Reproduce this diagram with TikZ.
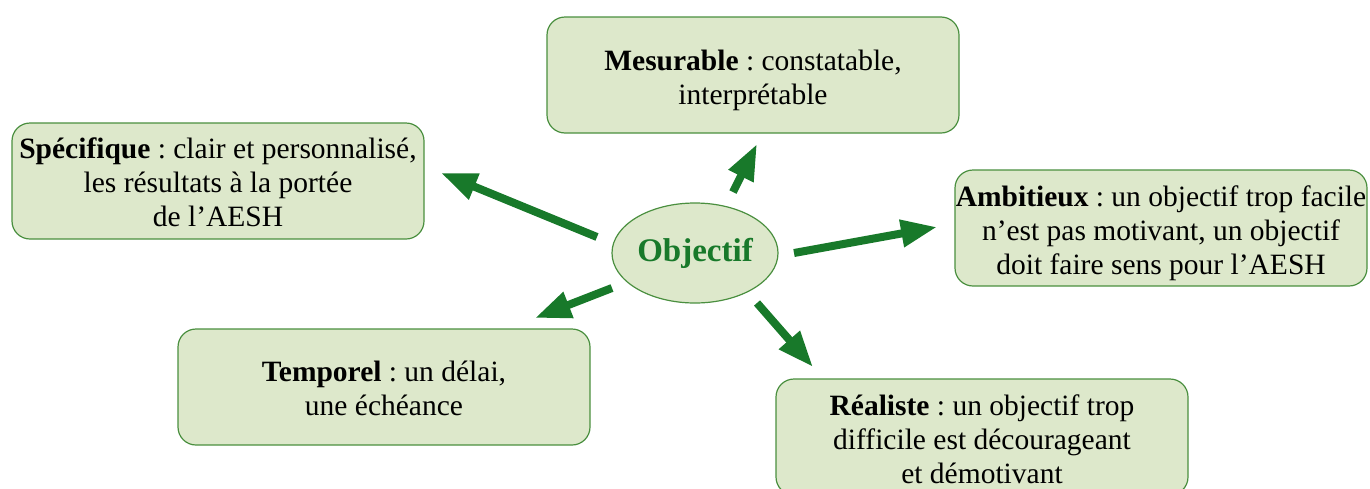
\documentclass[tikz,border=0pt]{standalone}
\usepackage{fontspec}
\setmainfont{Liberation Serif}
\usetikzlibrary{arrows.meta,shapes.geometric}
\definecolor{boxfill}{HTML}{DDE8CB}
\definecolor{boxdraw}{HTML}{4A8F3F}
\definecolor{arrowgreen}{HTML}{18792A}
\frenchspacing
\newcommand\lift[1]{\rule{0pt}{#1}}
\begin{document}
\begin{tikzpicture}[x=1pt,y=-1pt,
  infobox/.style={draw=boxdraw, fill=boxfill, rounded corners=18pt, line width=1.2pt,
    minimum width=412pt, minimum height=116pt, align=center, inner sep=0pt,
    font=\fontsize{29.5}{34}\selectfont\frenchspacing},
  centre/.style={ellipse, draw=boxdraw, fill=boxfill, line width=1.2pt,
    minimum width=166pt, minimum height=100pt, inner sep=0pt,
    font=\fontsize{33}{38}\selectfont\bfseries, text=arrowgreen},
  bigarrow/.style={draw=arrowgreen, line width=8pt,
    -{Triangle[length=36pt,width=26pt]}}]
\useasboundingbox (0,0) rectangle (1370,488);
\clip (0,0) rectangle (1370,488);
\node[infobox] (mes) at (753,75) {\lift{32pt}\textbf{Mesurable} : constatable,\\interprétable};
\node[infobox] (spe) at (218,181) {\lift{24pt}\textbf{Spécifique} : clair et personnalisé,\\les résultats à la portée\\de l’AESH};
\node[infobox] (amb) at (1161,228) {\lift{32pt}\textbf{Ambitieux} : un objectif trop facile\\n’est pas motivant, un objectif\\doit faire sens pour l’AESH};
\node[infobox] (tem) at (384,387) {\lift{24pt}\textbf{Temporel} : un délai,\\une échéance};
\node[infobox] (rea) at (982,437) {\lift{26pt}\textbf{Réaliste} : un objectif trop\\difficile est décourageant\\et démotivant};
\node[centre] (obj) at (695,253) {Objectif};
\coordinate (mesS) at (733,192); \coordinate (mesE) at (757,144);
\coordinate (speS) at (597,237); \coordinate (speE) at (441,173);
\coordinate (ambS) at (794,253); \coordinate (ambE) at (937,227);
\coordinate (temS) at (612,288); \coordinate (temE) at (535,318);
\coordinate (reaS) at (757,303); \coordinate (reaE) at (813,367);
\draw[bigarrow] (mesS) -- (mesE);
\draw[bigarrow] (speS) -- (speE);
\draw[bigarrow] (ambS) -- (ambE);
\draw[bigarrow] (temS) -- (temE);
\draw[bigarrow] (reaS) -- (reaE);
\end{tikzpicture}
\end{document}
